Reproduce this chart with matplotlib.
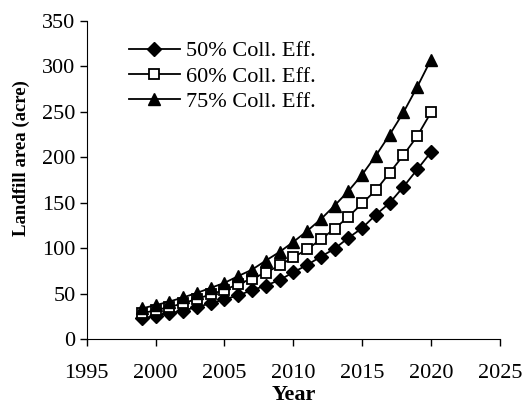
import matplotlib.pyplot as plt
import numpy as np

plt.rcParams['font.family'] = ['Liberation Serif', 'DejaVu Serif']

years = np.arange(1999, 2021)

# landfill area (acre)
eff_50 = [23, 25.6, 28.6, 31.5, 35.5, 39.5, 43.9, 48.3, 54.0, 59.0, 65.2,
          73.6, 81.7, 90.8, 99.6, 111.5, 122.3, 137.0, 150.0, 167.7, 186.7, 205.8]
eff_60 = [28.5, 32.0, 35.5, 39.5, 44.5, 49.3, 54.5, 60.5, 66.8, 73.2, 81.3,
          90.0, 98.9, 109.8, 121.6, 134.7, 149.4, 164.0, 183.0, 202.5, 223.4, 249.4]
eff_75 = [34.0, 37.5, 41.5, 46.0, 51.0, 56.5, 62.0, 69.5, 76.5, 86.5, 96.0,
          107.0, 119.0, 132.0, 147.0, 163.0, 181.0, 202.0, 225.0, 249.5, 277.5, 307.5]

labels = ['50% Coll. Eff.', '60% Coll. Eff.', '75% Coll. Eff.']

fig = plt.figure(figsize=(5.24, 4.17), dpi=100)
ax = fig.add_axes([0.1655, 0.1863, 0.7885, 0.7637])

ax.plot(years, eff_50, color='black', lw=1.3, marker='D', ms=7,
        mfc='black', mec='black', label=labels[0])
ax.plot(years, eff_60, color='black', lw=1.3, marker='s', ms=6.5,
        mfc='white', mec='black', mew=1.3, label=labels[1])
ax.plot(years, eff_75, color='black', lw=1.3, marker='^', ms=8.5,
        mfc='black', mec='black', label=labels[2])

ax.set_xlim(1995, 2025)
ax.set_ylim(0, 350)
ax.set_xticks(np.arange(1995, 2026, 5))
ax.set_yticks(np.arange(0, 351, 50))
ax.spines['top'].set_visible(False)
ax.spines['right'].set_visible(False)
ax.tick_params(direction='out', length=5, width=1, labelsize=16)
ax.tick_params(axis='x', pad=13)
ax.tick_params(axis='y', pad=3)

ax.set_xlabel('Year', fontsize=16, fontweight='bold', labelpad=1)
ax.set_ylabel('Landfill area (acre)', fontsize=13.5, fontweight='bold')
ax.yaxis.set_label_coords(-0.137, 0.569)

ax.legend(loc='upper left', bbox_to_anchor=(0.102, 0.937), frameon=False,
          fontsize=16, handlelength=2.3, handletextpad=0.25,
          labelspacing=0.21, borderaxespad=0, borderpad=0)

fig.savefig('out.png', dpi=100)
